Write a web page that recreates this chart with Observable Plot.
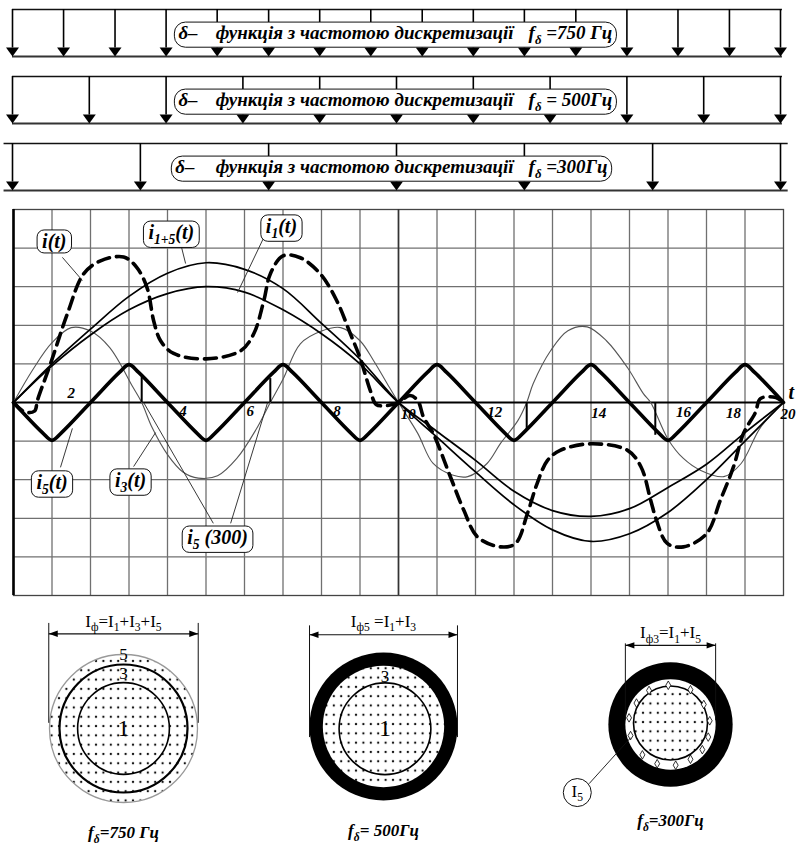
<!DOCTYPE html>
<html><head><meta charset="utf-8">
<script src="https://cdn.jsdelivr.net/npm/d3@7"></script>
<script src="https://cdn.jsdelivr.net/npm/@observablehq/plot@0.6"></script>
<style>
body{margin:0;background:#fff;}
#root{position:relative;width:801px;height:846px;overflow:hidden;background:#fff;}
#root svg text, #root svg tspan{font-family:'Liberation Serif','Times New Roman',serif !important;}
</style></head><body><div id="root"></div>
<script>
const NS = "http://www.w3.org/2000/svg";
const SERIF = "Liberation Serif";

// ---------- delta-function rows (sample instants, ms) ----------
const samples750 = [0,1.33,2.67,4,5.33,6.67,8,9.33,10.67,12,13.33,14.67,16,17.33,18.67,20];
const samples500 = [0,2,4,6,8,10,12,14,16,18,20];
const samples300 = [0,3.33,6.67,10,13.33,16.67,20];
const deltaWords = ["δ–", "функція з частотою дискретизації"];
const deltaFreq = ["f_{δ} =750 Гц", "f_{δ} = 500Гц", "f_{δ} =300Гц"];
const deltaTextT = [4.32, 5.29, 13.44];

// ---------- main chart series (t in ms, current in grid units) ----------
const gridT = [1,2,3,4,5,6,7,8,9,10,11,12,13,14,15,16,17,18,19];
const gridV = [-4,-3,-2,-1,1,2,3,4];

const i1T  = [0,1,2,3,4,5,6,7,8,9,10,11,12,13,14,15,16,17,18,19,20];
const i1V  = [0,0.95,1.75,2.4,2.82,3.0,2.86,2.4,1.78,1.0,0,-0.75,-1.5,-2.3,-2.8,-2.95,-2.75,-2.2,-1.6,-0.78,0];
const i15V = [0,1.0,1.9,2.75,3.35,3.62,3.45,2.95,2.05,1.12,0,-0.9,-1.8,-2.65,-3.3,-3.6,-3.4,-2.85,-2.0,-1.0,0];

const i5T = [0,0.75,1,1.25,2,2.75,3,3.25,4,4.75,5,5.25,6,6.75,7,7.25,8,8.75,9,9.25,10,10.75,11,11.25,12,12.75,13,13.25,14,14.75,15,15.25,16,16.75,17,17.25,18,18.75,19,19.25,20];
const i5V = [0,-0.78,-0.98,-0.78,0,0.78,0.98,0.78,0,-0.78,-0.98,-0.78,0,0.78,0.98,0.78,0,-0.78,-0.98,-0.78,0,0.78,0.98,0.78,0,-0.78,-0.98,-0.78,0,0.78,0.98,0.78,0,-0.78,-0.98,-0.78,0,0.78,0.98,0.78,0];

const i3T = [0,0.5,1,1.5,2,2.5,3.1,3.33,3.6,4.0,4.4,4.8,5.3,5.8,6.3,6.67,7.0,7.45,8.0,8.5,9.0,9.35,9.7,10,10.5,10.9,11.4,11.8,12.3,12.65,13.1,13.33,13.5,13.95,14.4,14.9,15.4,15.95,16.36,16.55,17,17.4,17.85,18.45,18.9,19.4,20];
const i3V = [0,0.85,1.55,1.94,1.85,1.42,0.4,0,-0.65,-1.35,-1.8,-1.96,-1.9,-1.45,-0.7,0,0.6,1.52,1.85,1.94,1.6,1.09,0.5,0,-0.8,-1.58,-1.88,-1.92,-1.58,-1.06,-0.47,0,0.49,1.34,1.86,1.96,1.6,0.9,0.23,0,-0.95,-1.45,-1.76,-1.92,-1.58,-0.65,0];

const iT = [0,0.3,0.55,0.62,0.96,1.4,1.82,2.26,2.86,3.2,3.47,3.64,3.82,4.16,5,5.9,6.24,6.5,6.67,7,7.45,7.97,8.4,8.75,9,9.27,9.42,9.7,10,10.3,10.5,10.65,10.9,11.35,11.7,12.05,12.65,13.04,13.35,13.6,13.87,14.2,15,15.95,16.3,16.55,16.7,16.98,17.4,18,18.36,18.7,18.96,19.27,19.4,19.8,20];
const iV = [0,-0.25,-0.22,0.05,1.0,2.3,3.33,3.67,3.77,3.5,2.97,2.12,1.6,1.27,1.13,1.34,1.78,2.63,3.33,3.8,3.75,3.33,2.63,1.78,1.16,0.3,-0.05,-0.08,0,0.18,0.05,-0.38,-0.8,-1.93,-2.8,-3.48,-3.74,-3.65,-2.87,-2.1,-1.5,-1.24,-1.07,-1.24,-1.67,-2.53,-3.05,-3.65,-3.74,-3.4,-2.53,-1.67,-0.8,-0.26,0.1,0.13,0];

const s300T = [3.33, 6.67, 13.33, 16.67];
const s300V = [0.66, 0.62, -0.72, -0.85];

const tickLabels = [
  {t:1.5, v:0.23, s:"2"}, {t:4.4, v:-0.22, s:"4"}, {t:6.15, v:-0.22, s:"6"}, {t:8.4, v:-0.22, s:"8"},
  {t:10.25, v:-0.3, s:"10"}, {t:12.5, v:-0.24, s:"12"}, {t:15.2, v:-0.28, s:"14"}, {t:17.4, v:-0.24, s:"16"},
  {t:18.7, v:-0.28, s:"18"}, {t:20.12, v:-0.3, s:"20"}
];
const curveLabels = [
  {t:1.06, v:4.17, s:"i(t)"}, {t:4.1, v:4.4, s:"i_{1+5}(t)"}, {t:6.96, v:4.56, s:"i_{1}(t)"},
  {t:1.0, v:-2.07, s:"i_{5}(t)"}, {t:3.04, v:-2.02, s:"i_{3}(t)"}, {t:5.3, v:-3.5, s:"i_{5} (300)"}
];
const leaders = [
  {x1:1.27, y1:3.76, x2:1.79, y2:3.16}, {x1:4.34, y1:4.12, x2:4.47, y2:3.6},
  {x1:6.49, y1:4.25, x2:5.82, y2:2.85}, {x1:1.22, y1:-1.68, x2:1.53, y2:-0.67},
  {x1:3.12, y1:-1.66, x2:3.69, y2:-0.78}, {x1:5.19, y1:-3.13, x2:3.38, y2:0},
  {x1:5.64, y1:-3.13, x2:6.6, y2:0}
];

// ---------- circle diagrams (radii relative to the largest circle) ----------
const rings750 = [{ring:"5", r:1.0}, {ring:"3", r:0.865}, {ring:"1", r:0.62}];
const rings500 = [{ring:"5", r:1.0}, {ring:"3", r:0.82}, {ring:"1", r:0.62}];
const rings300 = [{ring:"3", r:0.84}, {ring:"5", r:0.61}, {ring:"1", r:0.5}];
const diamonds300 = [[-0.03,0.53],[0.27,0.47],[0.45,0.27],[0.53,0.05],[0.51,-0.17],[0.43,-0.34],[0.27,-0.47],[0.07,-0.55],[-0.18,-0.53],[-0.38,-0.41],[-0.54,-0.15],[-0.56,0.09],[-0.46,0.29],[-0.29,0.46]];
const dimText = ["I_{ф}=I_{1}+I_{3}+I_{5}", "I_{ф5} =I_{1}+I_{3}", "I_{ф3}=I_{1}+I_{5}"];
const captions = ["f_{δ}=750 Гц", "f_{δ}= 500Гц", "f_{δ}=300Гц"];

// ---------- helpers ----------
const root = document.getElementById("root");
const zipTV = (T, V) => T.map((t, i) => ({t, v: V[i]}));
const headDown  = {draw(c){c.moveTo(0,0);c.lineTo(-6.5,-9);c.lineTo(6.5,-9);c.closePath();}};
const headLeft  = {draw(c){c.moveTo(0,0);c.lineTo(9,-3.2);c.lineTo(9,3.2);c.closePath();}};
const headRight = {draw(c){c.moveTo(0,0);c.lineTo(-9,-3.2);c.lineTo(-9,3.2);c.closePath();}};
const bi = {fontFamily: SERIF, fontWeight: "bold", fontStyle: "italic"};
const tag = name => ({ariaDescription: name, className: name});

function place(el, left, top){
  el.style.position = "absolute"; el.style.left = left + "px"; el.style.top = top + "px";
  el.style.background = "transparent"; el.style.overflow = "visible"; el.style.maxWidth = "none";
  root.appendChild(el); return el;
}
function subify(svg){
  svg.querySelectorAll("text").forEach(t => {
    const s = t.textContent;
    if (!s.includes("_{")) return;
    const fs = parseFloat(getComputedStyle(t).fontSize) || 16;
    const shift = fs * 0.27;
    while (t.firstChild) t.removeChild(t.firstChild);
    let down = false;
    const add = (str, sub) => {
      const ts = document.createElementNS(NS, "tspan");
      ts.textContent = str;
      if (sub) { ts.setAttribute("font-size", (fs * 0.68).toFixed(1)); if (!down) { ts.setAttribute("dy", shift); down = true; } }
      else if (down) { ts.setAttribute("dy", -shift); down = false; }
      t.appendChild(ts);
    };
    const re = /_\{([^}]*)\}/g; let last = 0, m;
    while ((m = re.exec(s))) { if (m.index > last) add(s.slice(last, m.index), false); add(m[1], true); last = re.lastIndex; }
    if (last < s.length) add(s.slice(last), false);
  });
}
function boxify(svg, label, {union=false, px=6, py=1, rx=7}={}){
  const sr = svg.getBoundingClientRect();
  svg.querySelectorAll(`g[aria-description="${label}"], g.${label}`).forEach(g => {
    let boxes = [...g.querySelectorAll("text")].map(t => t.getBoundingClientRect());
    if (!boxes.length) return;
    if (union) boxes = [{left: d3.min(boxes, b => b.left), right: d3.max(boxes, b => b.right), top: d3.min(boxes, b => b.top), bottom: d3.max(boxes, b => b.bottom)}];
    boxes.forEach(b => {
      const r = document.createElementNS(NS, "rect");
      r.setAttribute("x", b.left - sr.left - px); r.setAttribute("y", b.top - sr.top - py);
      r.setAttribute("width", b.right - b.left + 2 * px); r.setAttribute("height", b.bottom - b.top + 2 * py);
      r.setAttribute("rx", rx); r.setAttribute("fill", "white"); r.setAttribute("stroke", "#111"); r.setAttribute("stroke-width", 1);
      g.parentNode.insertBefore(r, g);
    });
  });
}
function addDots(svg, id, bg){
  const defs = document.createElementNS(NS, "defs");
  const p = document.createElementNS(NS, "pattern");
  p.setAttribute("id", id); p.setAttribute("patternUnits", "userSpaceOnUse");
  p.setAttribute("width", 7.4); p.setAttribute("height", 9.3);
  if (bg) { const r = document.createElementNS(NS, "rect"); r.setAttribute("width", 7.4); r.setAttribute("height", 9.3); r.setAttribute("fill", bg); p.appendChild(r); }
  const c = document.createElementNS(NS, "circle");
  c.setAttribute("cx", 3.7); c.setAttribute("cy", 4.6); c.setAttribute("r", 1.15); c.setAttribute("fill", "#111");
  p.appendChild(c); defs.appendChild(p); svg.insertBefore(defs, svg.firstChild);
}

const svgs = [];

// ---------- delta rows ----------
[samples750, samples500, samples300].forEach((samples, k) => {
  const ext = k === 2 ? [-0.22, 20.2] : [0, 20.05];
  const pieces = [...deltaWords, deltaFreq[k]].map((s, i) => ({x: deltaTextT[i] - (k === 2 && i === 0 ? 0.08 : 0), s}));
  const p = Plot.plot({
    width: 801, height: 67, marginTop: 9, marginBottom: 11, marginLeft: 12, marginRight: 21,
    x: {domain: [0, 20], axis: null}, y: {domain: [0, 1], axis: null},
    marks: [
      Plot.ruleY([1], {x1: ext[0], x2: ext[1], stroke: "#111", strokeWidth: 1.6}),
      Plot.ruleY([0], {x1: ext[0], x2: ext[1], stroke: "#333", strokeWidth: 1.8}),
      Plot.ruleX(samples, {x: d => d, y1: 1, y2: 0.18, stroke: "#000", strokeWidth: 1.6}),
      Plot.dot(samples, {x: d => d, y: 0, symbol: headDown, fill: "#000", stroke: "none"}),
      Plot.text(pieces, {x: "x", y: 0.5, text: "s", textAnchor: "start", fontSize: 19, ...bi, fill: "#000", ...tag("dlabel")})
    ]
  });
  svgs.push({svg: place(p, 0, 67 * k), delta: true});
});

// ---------- main chart ----------
const main = Plot.plot({
  width: 801, height: 400, marginTop: 9, marginBottom: 5, marginLeft: 13, marginRight: 18,
  x: {domain: [0, 20], axis: null}, y: {domain: [-5, 5], axis: null},
  marks: [
    Plot.ruleX(gridT, {stroke: "#707070", strokeWidth: 1.3}),
    Plot.ruleY(gridV, {stroke: "#707070", strokeWidth: 1.3}),
    Plot.frame({stroke: "#444", strokeWidth: 1.3}),
    Plot.ruleX([10], {stroke: "#333", strokeWidth: 1.6}),
    Plot.ruleX([0], {stroke: "#000", strokeWidth: 2.6}),
    Plot.ruleY([0], {stroke: "#000", strokeWidth: 2}),
    Plot.line(zipTV(i3T, i3V), {x: "t", y: "v", curve: "catmull-rom", stroke: "#555", strokeWidth: 1.1}),
    Plot.line(zipTV(i1T, i1V), {x: "t", y: "v", curve: "catmull-rom", stroke: "#000", strokeWidth: 1.7}),
    Plot.line(zipTV(i1T, i15V), {x: "t", y: "v", curve: "catmull-rom", stroke: "#000", strokeWidth: 1.7}),
    Plot.line(zipTV(i5T, i5V), {x: "t", y: "v", curve: "catmull-rom", stroke: "#000", strokeWidth: 3.6}),
    Plot.line(zipTV(iT, iV), {x: "t", y: "v", curve: "catmull-rom", stroke: "#000", strokeWidth: 3.6, strokeDasharray: "12,7"}),
    Plot.ruleX(zipTV(s300T, s300V), {x: "t", y1: 0, y2: "v", stroke: "#000", strokeWidth: 2}),
    Plot.link(leaders, {x1: "x1", y1: "y1", x2: "x2", y2: "y2", stroke: "#222", strokeWidth: 0.9}),
    Plot.text(tickLabels, {x: "t", y: "v", text: "s", fontSize: 15, ...bi, fill: "#000"}),
    Plot.text(["t"], {x: 20.2, y: 0.25, text: d => d, fontSize: 20, ...bi, fill: "#000"}),
    Plot.text(curveLabels, {x: "t", y: "v", text: "s", fontSize: 20, ...bi, fill: "#000", ...tag("boxed")})
  ]
});
svgs.push({svg: place(main, 0, 200), main: true});

// ---------- circle diagrams ----------
const cx = {domain: [-1.622, 1.622], axis: null};
const cy = {domain: [-1.595, 1.730], axis: null};
const rs = {type: "linear", domain: [0, 1], range: [0, 74]};
function dimension(half, yLine, yTop, yBot, yText, text){
  return [
    Plot.ruleX([-half, half], {x: d => d, y1: yTop, y2: yBot, stroke: "#111", strokeWidth: 1}),
    Plot.link([0], {x1: -half, y1: yLine, x2: half, y2: yLine, stroke: "#111", strokeWidth: 1.2}),
    Plot.dot([0], {x: -half, y: yLine, symbol: headLeft, fill: "#000", stroke: "none"}),
    Plot.dot([0], {x: half, y: yLine, symbol: headRight, fill: "#000", stroke: "none"}),
    Plot.text([text], {x: 0, y: yText, text: d => d, fontSize: 17, fontFamily: SERIF, fill: "#000"})
  ];
}
const capOpt = {fontSize: 17, ...bi, fill: "#000"};

const c1 = Plot.plot({
  width: 240, height: 246, margin: 0, x: cx, y: cy, r: rs,
  marks: [
    Plot.dot(rings750.filter(d => d.ring === "5"), {x: 0, y: 0, r: "r", fill: "url(#dots750)", stroke: "#999", strokeWidth: 1.3}),
    Plot.dot(rings750.filter(d => d.ring === "3"), {x: 0, y: 0, r: "r", fill: "none", stroke: "#000", strokeWidth: 2.2}),
    Plot.dot(rings750.filter(d => d.ring === "1"), {x: 0, y: 0, r: "r", fill: "none", stroke: "#000", strokeWidth: 1.6}),
    Plot.text(rings750, {x: 0, y: d => d.ring === "5" ? 1.0 : d.ring === "3" ? 0.74 : 0, text: "ring", fontSize: d => d.ring === "1" ? 24 : 17, fontFamily: SERIF, fill: "#000"}),
    ...dimension(1.01, 1.28, 1.42, 0.07, 1.45, dimText[0]),
    Plot.text([captions[0]], {x: 0, y: -1.41, text: d => d, ...capOpt})
  ]
});
svgs.push({svg: place(c1, 3, 600), dots: ["dots750", null]});

const c2 = Plot.plot({
  width: 240, height: 246, margin: 0, x: cx, y: cy, r: rs,
  marks: [
    Plot.dot(rings500.filter(d => d.ring === "5"), {x: 0, y: 0, r: "r", fill: "#000", stroke: "none"}),
    Plot.dot(rings500.filter(d => d.ring === "3"), {x: 0, y: 0, r: "r", fill: "url(#dots500)", stroke: "none"}),
    Plot.dot(rings500.filter(d => d.ring === "1"), {x: 0.02, y: -0.03, r: "r", fill: "none", stroke: "#000", strokeWidth: 1.6}),
    Plot.text(rings500.filter(d => d.ring !== "5"), {x: 0.02, y: d => d.ring === "3" ? 0.68 : -0.02, text: "ring", fontSize: d => d.ring === "1" ? 24 : 17, fontFamily: SERIF, fill: "#000"}),
    ...dimension(1.0, 1.24, 1.36, -0.15, 1.42, dimText[1]),
    Plot.text([captions[1]], {x: 0, y: -1.41, text: d => d, ...capOpt})
  ]
});
svgs.push({svg: place(c2, 263, 598), dots: ["dots500", "white"]});

const c3 = Plot.plot({
  width: 240, height: 246, margin: 0, x: cx, y: cy, r: rs,
  marks: [
    Plot.dot(rings300.filter(d => d.ring === "3"), {x: 0, y: 0, r: "r", fill: "#000", stroke: "none"}),
    Plot.dot(rings300.filter(d => d.ring === "5"), {x: 0, y: 0, r: "r", fill: "#fff", stroke: "none"}),
    Plot.dot(rings300.filter(d => d.ring === "1"), {x: 0, y: 0.02, r: "r", fill: "url(#dots300)", stroke: "#000", strokeWidth: 1.6}),
    Plot.dot(diamonds300, {x: d => d[0], y: d => d[1], symbol: "diamond", r: 2.6, fill: "#fff", stroke: "#000", strokeWidth: 0.8}),
    ...dimension(0.61, 1.07, 1.09, 0.05, 1.24, dimText[2]),
    Plot.link([0], {x1: -1.1, y1: -0.8, x2: -0.54, y2: -0.18, stroke: "#111", strokeWidth: 0.9}),
    Plot.dot([0], {x: -1.26, y: -0.92, r: 14, fill: "#fff", stroke: "#111", strokeWidth: 1}),
    Plot.text(["I_{5}"], {x: -1.26, y: -0.9, text: d => d, fontSize: 17, fontFamily: SERIF, fill: "#000"}),
    Plot.text([captions[2]], {x: 0, y: -1.3, text: d => d, ...capOpt})
  ]
});
svgs.push({svg: place(c3, 550, 596), dots: ["dots300", "white"]});

// ---------- post-processing: subscripts, label boxes, dot textures ----------
svgs.forEach(o => {
  subify(o.svg);
  if (o.delta) boxify(o.svg, "dlabel", {union: true, px: 4, py: 0, rx: 11});
  if (o.main) boxify(o.svg, "boxed", {px: 5, py: 0, rx: 7});
  if (o.dots) addDots(o.svg, o.dots[0], o.dots[1]);
});
</script></body></html>
